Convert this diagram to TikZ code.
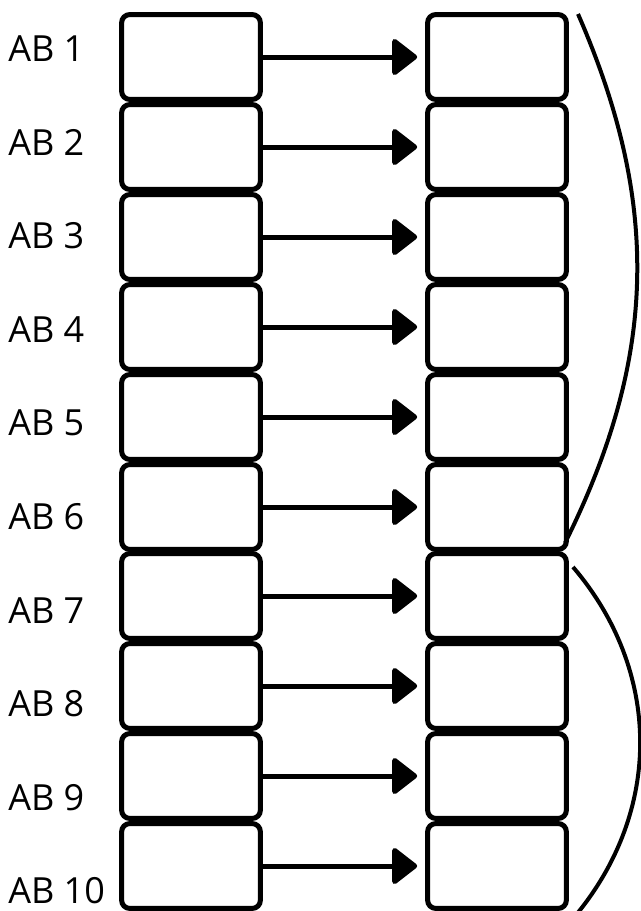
\documentclass[tikz,border=0pt]{standalone}
\usepackage{fontspec}
\setmainfont{Open Sans}
\usepackage{tikz}
\usetikzlibrary{arrows.meta}
\tikzstyle{cell}=[shape=rectangle,draw=black,line width=3.75pt,rounded corners=6pt,minimum width=104pt,minimum height=63.6pt,inner sep=0pt]
\tikzstyle{lbl}=[anchor=base west,inner sep=0pt,font=\fontsize{27}{32}\selectfont]
\tikzstyle{link}=[-{Triangle[length=20pt,width=30pt,round]},line width=3.75pt,shorten >=6pt]
\tikzstyle{group}=[line width=3pt,bend left=#1]

\begin{document}
\begin{tikzpicture}[x=0.75pt,y=-0.75pt]
\useasboundingbox (0,0) rectangle (641,911);
% right column
\node[cell] (r1) at (497,57) {};
\node[cell] (r2) at (497,147) {};
\node[cell] (r3) at (497,237) {};
\node[cell] (r4) at (497,327) {};
\node[cell] (r5) at (497,417) {};
\node[cell] (r6) at (497,507) {};
\node[cell] (r7) at (497,596) {};
\node[cell] (r8) at (497,686) {};
\node[cell] (r9) at (497,776) {};
\node[cell] (r10) at (497,866) {};
% left column
\node[cell] (l1) at (191,57) {} edge [link] (r1);
\node[cell] (l2) at (191,147) {} edge [link] (r2);
\node[cell] (l3) at (191,237) {} edge [link] (r3);
\node[cell] (l4) at (191,327) {} edge [link] (r4);
\node[cell] (l5) at (191,417) {} edge [link] (r5);
\node[cell] (l6) at (191,507) {} edge [link] (r6);
\node[cell] (l7) at (191,596) {} edge [link] (r7);
\node[cell] (l8) at (191,686) {} edge [link] (r8);
\node[cell] (l9) at (191,776) {} edge [link] (r9);
\node[cell] (l10) at (191,866) {} edge [link] (r10);
% labels
\node[lbl] (ab1) at (8,61) {AB 1};
\node[lbl] (ab2) at (8,155) {AB 2};
\node[lbl] (ab3) at (8,248) {AB 3};
\node[lbl] (ab4) at (8,342) {AB 4};
\node[lbl] (ab5) at (8,435) {AB 5};
\node[lbl] (ab6) at (8,529) {AB 6};
\node[lbl] (ab7) at (8,623) {AB 7};
\node[lbl] (ab8) at (8,716) {AB 8};
\node[lbl] (ab9) at (8,810) {AB 9};
\node[lbl] (ab10) at (8,903) {AB 10};
% groups
\coordinate (g1a) at (578,14);
\coordinate (g1b) at (565,543);
\coordinate (g2a) at (573,567);
\coordinate (g2b) at (576,915);
\draw[group=25] (g1a) to (g1b);
\draw[group=40] (g2a) to (g2b);
\end{tikzpicture}
\end{document}
